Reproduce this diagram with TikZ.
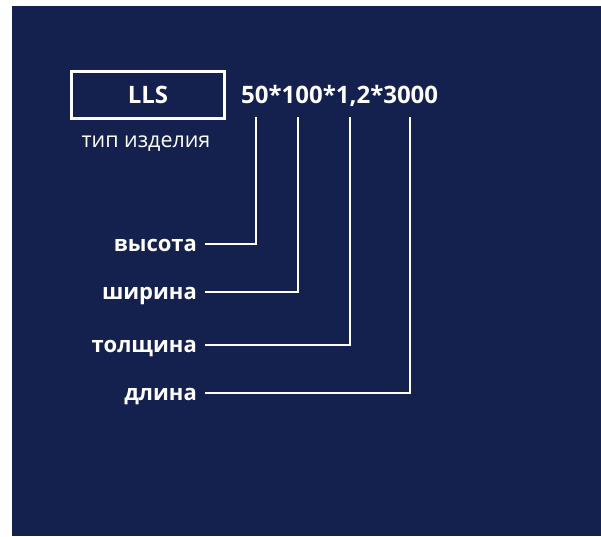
\documentclass[tikz,border=0pt]{standalone}
\usepackage{fontspec}
\setmainfont{Open Sans}
\definecolor{navy}{RGB}{20,33,79}
\begin{document}
\begin{tikzpicture}[x=1pt,y=-1pt,
  txt/.style={text=white,inner sep=0pt},
  lab/.style={txt,font=\fontsize{22}{26}\selectfont\bfseries,anchor=base east},
  wire/.style={draw=white,line width=1.8pt}]
\useasboundingbox (0,0) rectangle (601,536);
\fill[navy] (12,6) rectangle (601,536);
\node[draw=white,line width=2.2pt,minimum width=153pt,minimum height=47pt,inner sep=0pt,
  text=white,font=\fontsize{24}{28}\selectfont\bfseries] (type) at (148,95) {LLS};
\node[txt,font=\fontsize{21.5}{25}\selectfont,anchor=base] (typelab) at (146,147) {тип изделия};
\node[txt,font=\fontsize{24}{28}\selectfont\bfseries,anchor=base west] (code) at (241,103) {50*100*1,2*3000};
\coordinate (t1) at (256,117);
\coordinate (t2) at (298,117);
\coordinate (t3) at (350,117);
\coordinate (t4) at (410,117);
\node[lab] (l1) at (197,251) {высота};
\node[lab] (l2) at (197,299) {ширина};
\node[lab] (l3) at (197,352) {толщина};
\node[lab] (l4) at (197,400) {длина};
\draw[wire] ([xshift=8pt,yshift=7pt]l1.base east) -| (t1);
\draw[wire] ([xshift=8pt,yshift=7pt]l2.base east) -| (t2);
\draw[wire] ([xshift=8pt,yshift=7pt]l3.base east) -| (t3);
\draw[wire] ([xshift=8pt,yshift=7pt]l4.base east) -| (t4);
\end{tikzpicture}
\end{document}
